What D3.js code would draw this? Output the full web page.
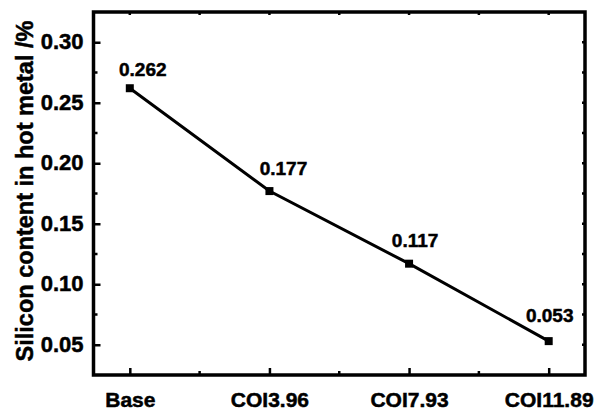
<!DOCTYPE html>
<html>
<head>
<meta charset="utf-8">
<script src="https://cdn.jsdelivr.net/npm/d3@7"></script>
<style>
  body { margin: 0; background: #fff; }
  text { font-family: "Liberation Sans", Arial, sans-serif; font-weight: bold; fill: #000;
         stroke: #000; stroke-width: 0.5px; }
</style>
</head>
<body>
<div id="chart"></div>
<script>
// data
const categories = ["Base", "COI3.96", "COI7.93", "COI11.89"];
const silicon = [0.262, 0.177, 0.117, 0.053];
const yTicks = [0.05, 0.10, 0.15, 0.20, 0.25, 0.30];
const yMinorTicks = [0.075, 0.125, 0.175, 0.225, 0.275];

// label nudges (px) so value labels sit where the original put them
const labelDx = [13, 14, 6, 1];
const labelDy = [-12, -16, -17, -19];

const width = 603, height = 410;
const margin = { top: 12, right: 18, bottom: 35, left: 93.5 };

const svg = d3.select("#chart").append("svg")
    .attr("width", width)
    .attr("height", height);

const x = d3.scalePoint()
    .domain(categories)
    .range([margin.left, width - margin.right])
    .padding(0.26);

const y = d3.scaleLinear()
    .domain([0.025, 0.325])
    .range([height - margin.bottom, margin.top]);

const xMinor = categories.slice(1).map((c, i) => (x(categories[i]) + x(c)) / 2);

// ticks point inward on all four sides
const bottom = svg.append("g")
    .attr("transform", `translate(0,${height - margin.bottom})`)
    .call(d3.axisBottom(x).tickSize(-7).tickPadding(17).tickSizeOuter(0));
bottom.selectAll("text").style("font-size", "21px").attr("dy", "0.71em");

const left = svg.append("g")
    .attr("transform", `translate(${margin.left},0)`)
    .call(d3.axisLeft(y).tickValues(yTicks).tickSize(-7).tickPadding(10)
        .tickSizeOuter(0).tickFormat(d3.format(".2f")));
left.selectAll("text").style("font-size", "22px").attr("dy", "0.3em");

// minor ticks
svg.append("g").selectAll("line")
    .data(yMinorTicks)
    .join("line")
    .attr("x1", margin.left).attr("x2", margin.left + 4)
    .attr("y1", d => y(d)).attr("y2", d => y(d));
svg.append("g").selectAll("line")
    .data(xMinor)
    .join("line")
    .attr("x1", d => d).attr("x2", d => d)
    .attr("y1", height - margin.bottom).attr("y2", height - margin.bottom - 4);

// top and right ticks (no labels)
svg.append("g").selectAll("line")
    .data(yTicks.concat(yMinorTicks))
    .join("line")
    .attr("x1", width - margin.right).attr("x2", width - margin.right - 3)
    .attr("y1", d => y(d)).attr("y2", d => y(d));
svg.append("g").selectAll("line")
    .data(categories.map(c => x(c)).concat(xMinor))
    .join("line")
    .attr("x1", d => d).attr("x2", d => d)
    .attr("y1", margin.top).attr("y2", margin.top + 3);

svg.selectAll("line").attr("stroke", "#000").attr("stroke-width", 2.5);
svg.selectAll(".domain").remove();

// frame
svg.append("rect")
    .attr("x", margin.left).attr("y", margin.top)
    .attr("width", width - margin.left - margin.right)
    .attr("height", height - margin.top - margin.bottom)
    .attr("fill", "none")
    .attr("stroke", "#000")
    .attr("stroke-width", 3.5);

// axis title
svg.append("text")
    .attr("transform", "translate(33,191) rotate(-90)")
    .attr("text-anchor", "middle")
    .style("font-size", "23.5px")
    .text("Silicon content in hot metal /%");

// line + markers
const line = d3.line()
    .x((d, i) => x(categories[i]))
    .y(d => y(d));

svg.append("path")
    .datum(silicon)
    .attr("fill", "none")
    .attr("stroke", "#000")
    .attr("stroke-width", 3)
    .attr("d", line);

svg.append("g").selectAll("rect")
    .data(silicon)
    .join("rect")
    .attr("x", (d, i) => x(categories[i]) - 4)
    .attr("y", d => y(d) - 4)
    .attr("width", 8).attr("height", 8)
    .attr("fill", "#000");

svg.append("g").selectAll("text")
    .data(silicon)
    .join("text")
    .attr("x", (d, i) => x(categories[i]) + labelDx[i])
    .attr("y", (d, i) => y(d) + labelDy[i])
    .attr("text-anchor", "middle")
    .style("font-size", "19px")
    .text(d => d3.format(".3f")(d));
</script>
</body>
</html>
